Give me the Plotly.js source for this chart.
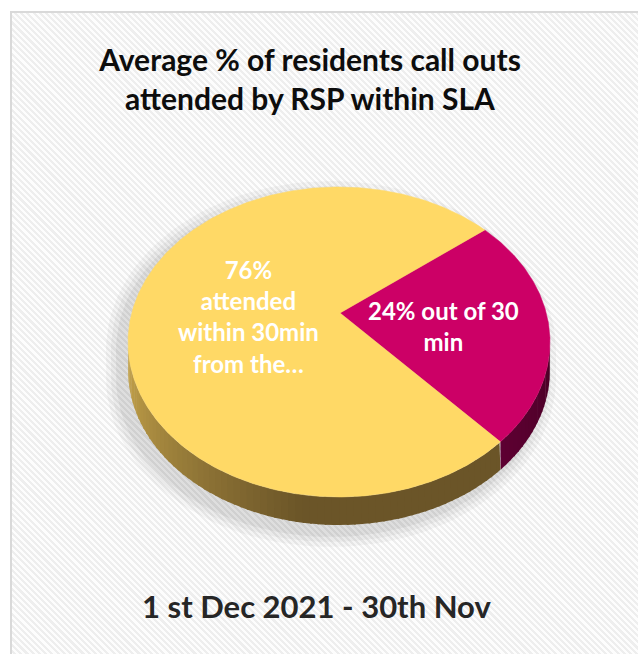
<!DOCTYPE html>
<html>
<head>
<meta charset="utf-8">
<script src="https://cdn.plot.ly/plotly-3.0.1.min.js"></script>
<style>
  html, body { margin: 0; padding: 0; background: #ffffff; overflow: hidden; }
  #frame {
    position: absolute; left: 10px; top: 11px; width: 660px; height: 680px;
    border-left: 2px solid #d9d9d9; border-top: 2px solid #d9d9d9;
    background: repeating-linear-gradient(45deg, #fdfdfd 0px, #fdfdfd 2.2px, #eeeeee 2.2px, #eeeeee 4.4px);
  }
  #chart { position: absolute; left: 0; top: 0; width: 638px; height: 654px; }
</style>
</head>
<body>
<div id="frame"></div>
<div id="chart"></div>
<script>
// ---- data ----
const categories = ['24% out of 30 min', '76% attended within 30min from the...'];
const values = [24, 76];
const labelTexts = ['24% out of 30<br>min', '76%<br>attended<br>within 30min<br>from the…'];
const topColors = ['#CC0066', '#FFD966'];
const titleText = 'Average % of residents call outs<br>attended by RSP within SLA';
const subtitleText = '1 st Dec 2021 - 30th Nov';

// ---- geometry / style (not data) ----
const G = { cx: 339, cy: 342, a: 211, b: 155, depth: 28, apexX: 340, apexY: 313, start: 46.3 };
const wallColors = [
  [[0x5e, 0x00, 0x32], [0x4a, 0x00, 0x26]],
  [[0xc9, 0xa7, 0x4c], [0x6b, 0x55, 0x28]]
];
const labelPos = [[443, 326], [248, 316]];

const rad = d => d * Math.PI / 180;
const px = (t) => G.cx + G.a * Math.cos(rad(t));
const py = (t, dy) => G.cy - G.b * Math.sin(rad(t)) + (dy || 0);
const lerp = (c1, c2, t) => 'rgb(' + c1.map((v, i) => Math.round(v + (c2[i] - v) * t)).join(',') + ')';

const total = values.reduce((s, v) => s + v, 0);
const traces = [];

// soft shadow
[[14, 0.035], [9, 0.04], [4, 0.05]].forEach(([g, op]) => {
  const xs = [], ys = [];
  for (let t = 0; t <= 360; t += 3) {
    xs.push(G.cx - 8 + (G.a + g) * Math.cos(rad(t)));
    const s = Math.sin(rad(t));
    ys.push(G.cy + 8 - (G.b + g) * s + (s < 0 ? G.depth : 0));
  }
  traces.push({ x: xs, y: ys, type: 'scatter', mode: 'lines', fill: 'toself',
    fillcolor: 'rgba(0,0,0,' + op + ')', line: { width: 0 }, hoverinfo: 'skip', showlegend: false });
});

// slices
let cum = 0;
const slices = values.map((v, i) => {
  const t0 = G.start - cum / total * 360;
  cum += v;
  const t1 = G.start - cum / total * 360;
  return { i, t0, t1 };
});

// walls (front half, theta in [180,360] modulo)
slices.forEach(s => {
  let lo = s.t1, hi = s.t0;
  for (let k = -1; k <= 1; k++) {
    const a0 = Math.max(lo + 360 * k, 180), a1 = Math.min(hi + 360 * k, 360);
    if (a1 <= a0) continue;
    const step = 2;
    for (let t = a0; t < a1; t += step) {
      const e = Math.min(t + step + 0.6, a1);
      const xs = [], ys = [];
      for (let u = t; u <= e + 1e-9; u += 0.5) { xs.push(px(u)); ys.push(py(u)); }
      for (let u = e; u >= t - 1e-9; u -= 0.5) { xs.push(px(u)); ys.push(py(u, G.depth)); }
      const tm = (t + e) / 2;
      const f = s.i === 1 ? Math.min(Math.max((tm - 180) / 80, 0), 1) : (tm - 320) / 40;
      traces.push({ x: xs, y: ys, type: 'scatter', mode: 'lines', fill: 'toself',
        fillcolor: lerp(wallColors[s.i][0], wallColors[s.i][1], Math.min(Math.max(f, 0), 1)),
        line: { width: 0 }, hoverinfo: 'skip', showlegend: false });
    }
  }
});

// top faces
slices.forEach(s => {
  const xs = [G.apexX], ys = [G.apexY];
  for (let t = s.t0; t >= s.t1 - 1e-9; t -= 0.5) { xs.push(px(t)); ys.push(py(t)); }
  xs.push(px(s.t1)); ys.push(py(s.t1));
  xs.push(G.apexX); ys.push(G.apexY);
  traces.push({ x: xs, y: ys, type: 'scatter', mode: 'lines', fill: 'toself',
    fillcolor: topColors[s.i], line: { width: 0.5, color: topColors[s.i] },
    name: categories[s.i], hoverinfo: 'skip', showlegend: false });
});

const annotations = labelTexts.map((t, i) => ({
  text: '<b>' + t + '</b>', x: labelPos[i][0], y: labelPos[i][1], xref: 'x', yref: 'y',
  showarrow: false, xanchor: 'center', yanchor: 'middle', align: 'center',
  font: { family: 'Lato, sans-serif', size: 24, color: '#ffffff' }
}));
annotations.push({
  text: '<b>' + subtitleText + '</b>', x: 316, y: 606, xref: 'x', yref: 'y',
  showarrow: false, xanchor: 'center', yanchor: 'middle',
  font: { family: 'Lato, sans-serif', size: 31, color: '#262626' }
});

const layout = {
  width: 638, height: 654,
  margin: { l: 0, r: 0, t: 0, b: 0 },
  paper_bgcolor: 'rgba(0,0,0,0)', plot_bgcolor: 'rgba(0,0,0,0)',
  title: { text: '<b>' + titleText + '</b>', x: 310 / 638, xanchor: 'center',
    xref: 'paper', yref: 'paper', y: 1 - 70.5 / 654, yanchor: 'middle',
    font: { family: 'Lato, sans-serif', size: 30, color: '#0d0d0d' } },
  xaxis: { range: [0, 638], visible: false, fixedrange: true },
  yaxis: { range: [654, 0], visible: false, fixedrange: true },
  annotations: annotations,
  showlegend: false
};

Plotly.newPlot('chart', traces, layout, { displayModeBar: false, staticPlot: true });
</script>
</body>
</html>
